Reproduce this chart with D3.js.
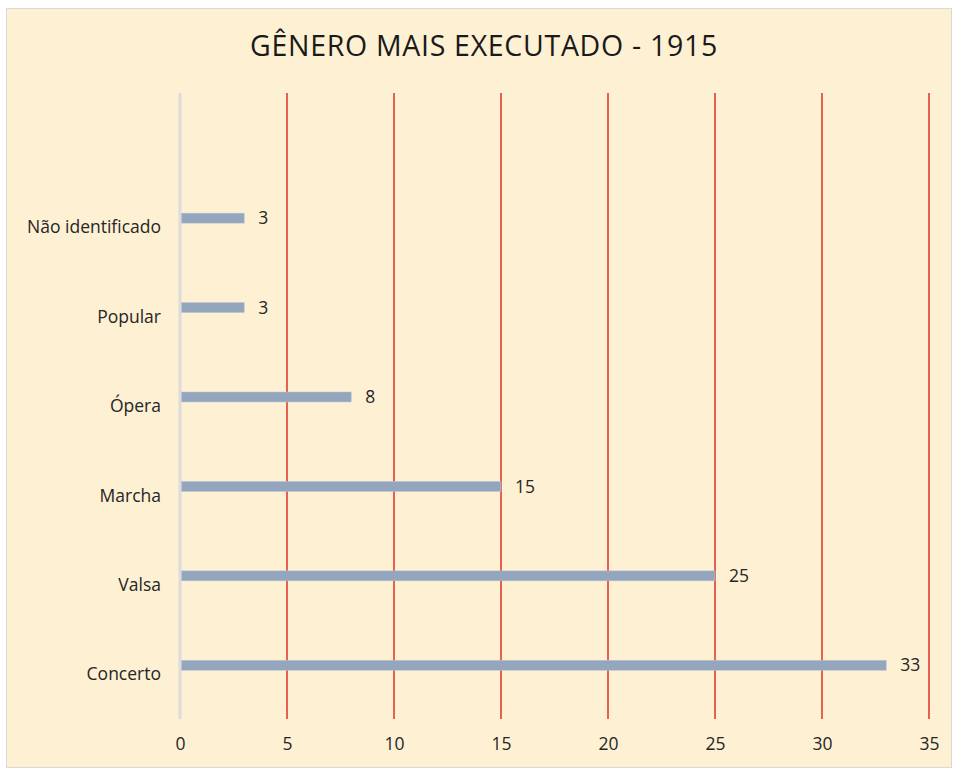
<!DOCTYPE html>
<html>
<head>
<meta charset="utf-8">
<script src="https://cdn.jsdelivr.net/npm/d3@7"></script>
<style>
html,body{margin:0;padding:0;background:#fff;}
svg{display:block;}
</style>
</head>
<body>
<svg id="chart" width="958" height="772"></svg>
<script>
const title = "GÊNERO MAIS EXECUTADO - 1915";
const categories = ["Concerto", "Valsa", "Marcha", "Ópera", "Popular", "Não identificado", ""];
const values = [33, 25, 15, 8, 3, 3, null];
const xTicks = [0, 5, 10, 15, 20, 25, 30, 35];

const svg = d3.select("#chart");
const font = "'Open Sans', 'Noto Sans', sans-serif";

svg.append("rect").attr("x", 6.5).attr("y", 8.5).attr("width", 945).attr("height", 759)
  .attr("fill", "#FEF0D3").attr("stroke", "#D9D9D9").attr("stroke-width", 1);

svg.append("text").attr("x", 484).attr("y", 56).attr("text-anchor", "middle")
  .attr("font-family", font).attr("font-size", 28.5).attr("fill", "#1a1a1a")
  .attr("letter-spacing", 0.7).text(title);

const m = {left: 180, right: 929, top: 93, bottom: 719};
const x = d3.scaleLinear().domain([0, 35]).range([m.left, m.right]);
const y = d3.scaleBand().domain(categories).range([m.bottom, m.top]).padding(0);

const g = svg.append("g");
g.selectAll("line.grid").data(xTicks.filter(t => t > 0)).enter().append("line")
  .attr("x1", d => x(d)).attr("x2", d => x(d)).attr("y1", m.top).attr("y2", m.bottom)
  .attr("stroke", "#E8604F").attr("stroke-width", 2);
g.append("line").attr("x1", x(0)).attr("x2", x(0)).attr("y1", m.top).attr("y2", m.bottom)
  .attr("stroke", "#DCDCDC").attr("stroke-width", 3);

const fs = 17.5;
const xAxis = d3.axisBottom(x).tickValues(xTicks).tickSize(0).tickPadding(0).tickFormat(d3.format("d"));
const xa = svg.append("g").attr("transform", `translate(0,${m.bottom + 18})`).call(xAxis);
xa.select(".domain").remove();
xa.selectAll("text").attr("font-family", font).attr("font-size", fs).attr("fill", "#262626").attr("dy", "0.72em");

const yAxis = d3.axisLeft(y).tickSize(0).tickPadding(0);
const ya = svg.append("g").attr("transform", `translate(${m.left - 19},0)`).call(yAxis);
ya.select(".domain").remove();
ya.selectAll("text").attr("font-family", font).attr("font-size", fs).attr("fill", "#262626").attr("dy", "0.35em");

const data = categories.map((c, i) => ({c, v: values[i]})).filter(d => d.v != null);
const barH = 10, off = -9;
g.selectAll("rect.bar").data(data).enter().append("rect")
  .attr("x", x(0) + 1.5).attr("y", d => y(d.c) + y.bandwidth() / 2 + off - barH / 2)
  .attr("width", d => x(d.v) - x(0) - 1.5).attr("height", barH)
  .attr("fill", "#94A6BE").attr("stroke", "#B8C6D6").attr("stroke-width", 0.5);

g.selectAll("text.lbl").data(data).enter().append("text")
  .attr("x", d => x(d.v) + 14).attr("y", d => y(d.c) + y.bandwidth() / 2 + off)
  .attr("dy", "0.35em").attr("font-family", font).attr("font-size", fs).attr("fill", "#262626")
  .text(d => d.v);
</script>
</body>
</html>
